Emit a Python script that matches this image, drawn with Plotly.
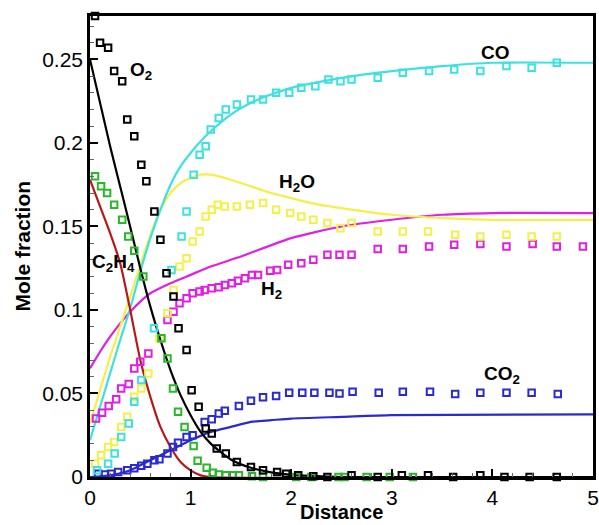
import plotly.graph_objects as go

# ---------------- model curves (solid lines) ----------------
o2_line_x = [0, 0.2, 0.35, 0.5, 0.6, 0.7, 0.8, 0.9, 1.0, 1.1, 1.2, 1.4, 1.6, 1.8, 2.0, 2.3, 2.6, 5.0]
o2_line_y = [0.25, 0.198, 0.162, 0.125, 0.102, 0.082, 0.064, 0.049, 0.037, 0.027, 0.020, 0.0105, 0.0055, 0.0028, 0.0013, 0.0004, 0.0, 0.0]

c2h4_line_x = [0, 0.1, 0.2, 0.3, 0.4, 0.5, 0.6, 0.7, 0.8, 0.9, 1.0, 1.1, 1.2, 5.0]
c2h4_line_y = [0.178, 0.162, 0.146, 0.128, 0.1, 0.07, 0.048, 0.03, 0.018, 0.009, 0.004, 0.001, 0.0, 0.0]

co_line_x = [0, 0.1, 0.2, 0.3, 0.4, 0.5, 0.6, 0.7, 0.8, 0.9, 1.0, 1.1, 1.2, 1.4, 1.6, 1.8, 2.0, 2.5, 3.0, 3.5, 4.0, 5.0]
co_line_y = [0.022, 0.042, 0.062, 0.082, 0.101, 0.123, 0.143, 0.16, 0.175, 0.186, 0.194, 0.201, 0.207, 0.217, 0.224, 0.229, 0.233, 0.239, 0.243, 0.246, 0.248, 0.248]

h2o_line_x = [0, 0.1, 0.2, 0.3, 0.4, 0.5, 0.6, 0.7, 0.8, 0.9, 1.0, 1.1, 1.2, 1.4, 1.6, 1.8, 2.0, 2.2, 2.5, 3.0, 3.5, 4.0, 5.0]
h2o_line_y = [0.032, 0.052, 0.072, 0.09, 0.108, 0.127, 0.145, 0.16, 0.17, 0.176, 0.179, 0.181, 0.181, 0.178, 0.174, 0.17, 0.167, 0.164, 0.161, 0.157, 0.155, 0.154, 0.154]

h2_line_x = [0, 0.1, 0.2, 0.3, 0.4, 0.5, 0.6, 0.8, 1.0, 1.2, 1.5, 2.0, 2.5, 3.0, 3.5, 4.0, 5.0]
h2_line_y = [0.065, 0.075, 0.084, 0.092, 0.099, 0.105, 0.11, 0.116, 0.121, 0.126, 0.132, 0.143, 0.15, 0.154, 0.157, 0.158, 0.158]

co2_line_x = [0, 0.2, 0.4, 0.5, 0.6, 0.7, 0.8, 0.9, 1.0, 1.2, 1.4, 1.6, 1.8, 2.0, 2.5, 3.0, 5.0]
co2_line_y = [0.0, 0.001, 0.004, 0.007, 0.01, 0.013, 0.016, 0.019, 0.022, 0.027, 0.03, 0.033, 0.034, 0.035, 0.036, 0.037, 0.0375]

# ---------------- measured points (open squares) ----------------
o2_pts_x = [0.05, 0.1, 0.18, 0.24, 0.32, 0.37, 0.44, 0.51, 0.56, 0.64, 0.70, 0.76, 0.83, 0.88, 0.96, 1.01, 1.08, 1.15,
            1.21, 1.26, 1.35, 1.46, 1.6, 1.72, 1.86, 1.95, 2.07, 2.22, 2.36, 2.6, 2.86, 3.1, 3.36, 3.61, 3.88, 4.12, 4.37, 4.64]
o2_pts_y = [0.276, 0.26, 0.257, 0.243, 0.237, 0.214, 0.204, 0.187, 0.177, 0.159, 0.142, 0.122, 0.108, 0.089, 0.076, 0.052, 0.042, 0.029,
            0.026, 0.017, 0.014, 0.009, 0.006, 0.004, 0.003, 0.002, 0.001, 0.0005, 0.0, 0.001, 0.0, 0.001, 0.001, 0.0, 0.001, 0.0, 0.0, 0.0]

c2h4_pts_x = [0.05, 0.11, 0.17, 0.24, 0.32, 0.38, 0.44, 0.53, 0.71, 0.77, 0.825, 0.875, 0.94, 1.03, 1.07, 1.16, 1.22, 1.28,
              1.35, 1.42, 1.48, 1.61, 1.72, 2.05, 2.2, 2.47, 2.53, 2.75, 2.98, 3.21]
c2h4_pts_y = [0.18, 0.174, 0.17, 0.163, 0.154, 0.144, 0.1355, 0.12, 0.083, 0.071, 0.053, 0.039, 0.03, 0.0186, 0.0098, 0.0055, 0.0026, 0.0015,
              0.001, 0.001, 0.001, 0.0005, 0.0, 0.0, 0.0, 0.0, 0.0, 0.0, 0.0, 0.0]

co_pts_x = [0.07, 0.18, 0.245, 0.31, 0.385, 0.44, 0.51, 0.636, 0.81, 0.91, 0.96, 1.03, 1.09, 1.15, 1.2, 1.28, 1.35, 1.46, 1.6, 1.72,
            1.85, 1.98, 2.1, 2.24, 2.37, 2.49, 2.6, 2.86, 3.11, 3.37, 3.62, 3.88, 4.14, 4.39, 4.64]
co_pts_y = [0.004, 0.008, 0.014, 0.024, 0.032, 0.045, 0.058, 0.089, 0.124, 0.144, 0.159, 0.181, 0.193, 0.198, 0.208, 0.215, 0.22, 0.223, 0.226, 0.226,
            0.23, 0.23, 0.233, 0.234, 0.238, 0.237, 0.238, 0.239, 0.242, 0.243, 0.244, 0.243, 0.246, 0.245, 0.248]

h2o_pts_x = [0.05, 0.11, 0.18, 0.24, 0.31, 0.37, 0.44, 0.51, 0.58, 0.69, 0.77, 0.83, 0.89, 0.96, 1.02, 1.09, 1.15, 1.21, 1.27, 1.34,
             1.46, 1.59, 1.72, 1.85, 1.99, 2.1, 2.22, 2.36, 2.49, 2.6, 2.86, 3.11, 3.36, 3.63, 3.88, 4.14, 4.39, 4.64]
h2o_pts_y = [0.008, 0.013, 0.018, 0.021, 0.03, 0.036, 0.048, 0.053, 0.062, 0.083, 0.098, 0.112, 0.126, 0.131, 0.141, 0.147, 0.156, 0.16, 0.163, 0.162,
             0.162, 0.163, 0.164, 0.16, 0.158, 0.156, 0.154, 0.152, 0.149, 0.152, 0.147, 0.147, 0.147, 0.145, 0.144, 0.145, 0.144, 0.144]

h2_pts_x = [0.06, 0.12, 0.186, 0.26, 0.31, 0.385, 0.44, 0.5, 0.58, 0.77, 0.83, 0.89, 0.96, 1.02, 1.09, 1.14, 1.21, 1.28, 1.34, 1.41,
            1.47, 1.54, 1.61, 1.67, 1.79, 1.86, 1.97, 2.1, 2.22, 2.36, 2.48, 2.6, 2.86, 3.11, 3.37, 3.62, 3.88, 4.14, 4.4, 4.64, 4.9]
h2_pts_y = [0.035, 0.0385, 0.0425, 0.0465, 0.053, 0.0557, 0.065, 0.069, 0.074, 0.094, 0.099, 0.104, 0.107, 0.11, 0.111, 0.112, 0.113, 0.1136, 0.115, 0.116,
            0.1175, 0.119, 0.121, 0.121, 0.1235, 0.124, 0.127, 0.128, 0.13, 0.133, 0.133, 0.133, 0.1365, 0.1365, 0.138, 0.139, 0.1395, 0.138, 0.1395, 0.138, 0.138]

co2_pts_x = [0.08, 0.15, 0.21, 0.28, 0.37, 0.44, 0.51, 0.57, 0.64, 0.69, 0.77, 0.825, 0.875, 0.96, 1.02, 1.14, 1.21, 1.28, 1.34, 1.48,
             1.6, 1.72, 1.85, 1.98, 2.11, 2.23, 2.38, 2.48, 2.61, 2.87, 3.11, 3.38, 3.63, 3.88, 4.14, 4.39, 4.65]
co2_pts_y = [0.002, 0.0015, 0.002, 0.003, 0.004, 0.0052, 0.0068, 0.008, 0.01, 0.0106, 0.014, 0.018, 0.0205, 0.024, 0.025, 0.033, 0.0345, 0.038, 0.0397, 0.0425,
             0.0457, 0.0477, 0.0485, 0.0505, 0.0505, 0.0505, 0.0505, 0.05, 0.051, 0.0505, 0.051, 0.051, 0.0497, 0.0505, 0.0505, 0.0505, 0.0497]

x_ticks = [0, 1, 2, 3, 4, 5]
y_ticks = [0, 0.05, 0.1, 0.15, 0.2, 0.25]
y_tick_text = ["0", "0.05", "0.1", "0.15", "0.2", "0.25"]

# ---------------- colours ----------------
BLACK = "#000000"
CYAN = "#3fe0e0"
YELLOW = "#f4f04a"
MAGENTA = "#e020e0"
GREEN = "#2ab82a"
BLUE = "#2a2ad0"
RED = "#b81818"

fig = go.Figure()

def add_line(x, y, color):
    fig.add_trace(go.Scatter(x=x, y=y, mode="lines", line=dict(color=color, width=2.2, shape="spline", smoothing=0.6),
                             showlegend=False, hoverinfo="skip", cliponaxis=True))

def add_pts(x, y, color):
    fig.add_trace(go.Scatter(x=x, y=y, mode="markers",
                             marker=dict(symbol="square-open", size=6.5, color=color, line=dict(width=2, color=color)),
                             showlegend=False, cliponaxis=False))

add_line(co2_line_x, co2_line_y, BLUE)
add_line(h2_line_x, h2_line_y, MAGENTA)
add_line(h2o_line_x, h2o_line_y, YELLOW)
add_line(co_line_x, co_line_y, CYAN)
add_line(c2h4_line_x, c2h4_line_y, RED)
add_line(o2_line_x, o2_line_y, BLACK)

add_pts(co2_pts_x, co2_pts_y, BLUE)
add_pts(h2_pts_x, h2_pts_y, MAGENTA)
add_pts(h2o_pts_x, h2o_pts_y, YELLOW)
add_pts(co_pts_x, co_pts_y, CYAN)
add_pts(c2h4_pts_x, c2h4_pts_y, GREEN)
add_pts(o2_pts_x, o2_pts_y, BLACK)

FONT = "Liberation Sans, Arial, sans-serif"
labels = [
    ("<b>O<sub>2</sub></b>", 0.51, 0.243),
    ("<b>CO</b>", 4.03, 0.254),
    ("<b>H<sub>2</sub>O</b>", 2.06, 0.176),
    ("<b>H<sub>2</sub></b>", 1.8, 0.112),
    ("<b>C<sub>2</sub>H<sub>4</sub></b>", 0.23, 0.128),
    ("<b>CO<sub>2</sub></b>", 4.1, 0.061),
]
for t, x, y in labels:
    fig.add_annotation(x=x, y=y, text=t, showarrow=False, font=dict(family=FONT, size=19, color="black"),
                       xanchor="center", yanchor="middle")

# axis titles placed as annotations so the plot area keeps the reference geometry
fig.add_annotation(xref="paper", yref="paper", x=0.5, y=-0.076, text="<b>Distance</b>", showarrow=False,
                   font=dict(family=FONT, size=20, color="black"), xanchor="center", yanchor="middle")
fig.add_annotation(xref="paper", yref="paper", x=-0.135, y=0.5, text="<b>Mole fraction</b>", showarrow=False,
                   textangle=-90, font=dict(family=FONT, size=21, color="black"), xanchor="center", yanchor="middle")

fig.update_layout(
    width=599, height=525,
    margin=dict(l=90, r=6, t=16, b=48, autoexpand=False),
    paper_bgcolor="white", plot_bgcolor="white",
    font=dict(family=FONT, size=20, color="black"),
)
fig.update_xaxes(
    range=[0, 5], tickvals=x_ticks, ticks="inside", ticklen=8, tickwidth=1.5, tickcolor="black",
    showline=True, linewidth=2.5, linecolor="black", mirror=True, showgrid=False, zeroline=False,
    minor=dict(dtick=0.2, ticks="inside", ticklen=4, tickcolor="#666", tickwidth=1),
    tickfont=dict(size=21), automargin=False,
)
fig.update_yaxes(
    range=[0, 0.276], tickvals=y_ticks, ticktext=y_tick_text, ticks="inside", ticklen=8, tickwidth=1.5, tickcolor="black",
    showline=True, linewidth=2.5, linecolor="black", mirror=True, showgrid=False, zeroline=False,
    minor=dict(dtick=0.01, ticks="inside", ticklen=4, tickcolor="#666", tickwidth=1),
    tickfont=dict(size=21), automargin=False,
)

fig.write_html("out.html", config={"displayModeBar": False},
               post_script="document.body.style.margin='0';document.body.style.overflow='hidden';")
